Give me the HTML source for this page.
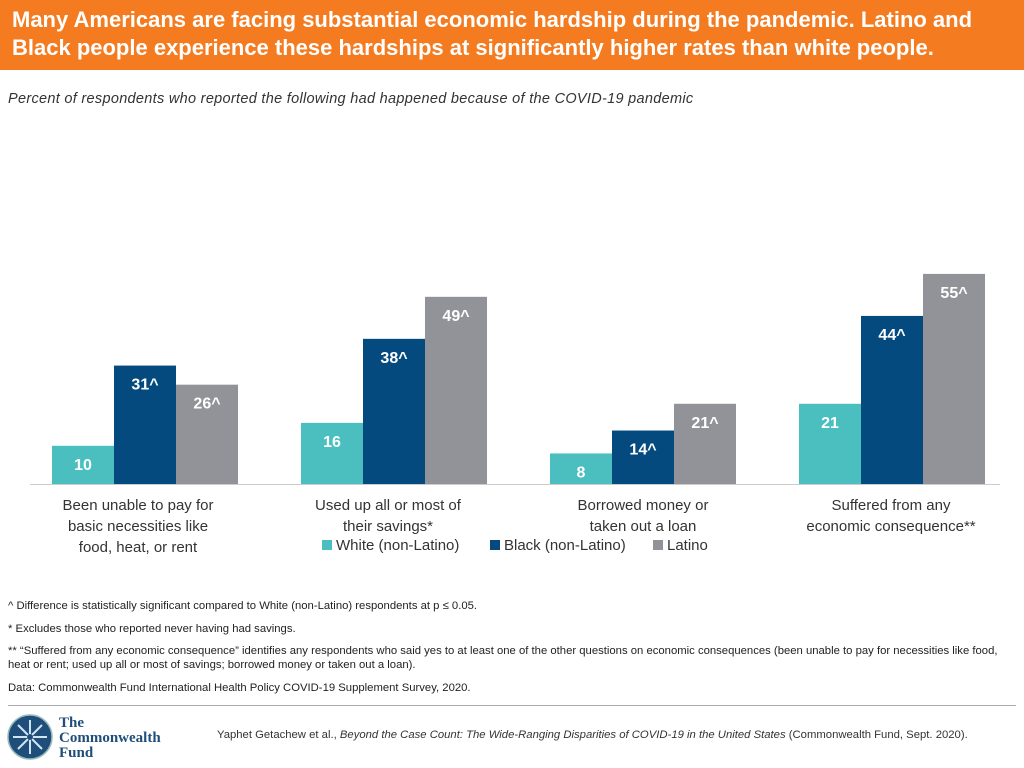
<!DOCTYPE html>
<html><head><meta charset="utf-8"><style>
body{margin:0;width:1024px;height:768px;background:#fff;font-family:"Liberation Sans",sans-serif;position:relative;overflow:hidden}
.hdr{position:absolute;left:0;top:0;width:1024px;height:70px;background:#f47b20;color:#fff;font-weight:bold;font-size:22px;line-height:28px;padding:6px 12px;box-sizing:border-box;white-space:nowrap}
.sub{position:absolute;left:8px;top:91px;font-size:14.5px;font-style:italic;color:#333;letter-spacing:0.3px}
.cat{position:absolute;top:495px;width:200px;text-align:center;font-size:15px;line-height:21px;color:#333;white-space:nowrap}
.note{position:absolute;left:8px;font-size:11.3px;color:#222;width:1010px;line-height:14px}
.leg{position:absolute;top:537px;font-size:15px;color:#333}
.sw{display:inline-block;width:10px;height:10px;margin-right:4px}
</style></head><body>
<div class="hdr">Many Americans are facing substantial economic hardship during the pandemic. Latino and<br>Black people experience these hardships at significantly higher rates than white people.</div>
<div class="sub">Percent of respondents who reported the following had happened because of the COVID-19 pandemic</div>
<svg id="chart" width="1024" height="768" style="position:absolute;left:0;top:0"></svg>
<div class="cat" style="left:38px">Been unable to pay for<br>basic necessities like<br>food, heat, or rent</div>
<div class="cat" style="left:288px">Used up all or most of<br>their savings*</div>
<div class="cat" style="left:543px">Borrowed money or<br>taken out a loan</div>
<div class="cat" style="left:791px">Suffered from any<br>economic consequence**</div>
<div class="leg" style="left:322px"><span class="sw" style="background:#4bbfbf"></span>White (non-Latino)</div>
<div class="leg" style="left:490px"><span class="sw" style="background:#044a7e"></span>Black (non-Latino)</div>
<div class="leg" style="left:653px"><span class="sw" style="background:#929299"></span>Latino</div>
<div class="note" style="top:599px">^ Difference is statistically significant compared to White (non-Latino) respondents at p ≤ 0.05.</div>
<div class="note" style="top:622px">* Excludes those who reported never having had savings.</div>
<div class="note" style="top:644px">** “Suffered from any economic consequence” identifies any respondents who said yes to at least one of the other questions on economic consequences (been unable to pay for necessities like food,<br>heat or rent; used up all or most of savings; borrowed money or taken out a loan).</div>
<div class="note" style="top:681px">Data: Commonwealth Fund International Health Policy COVID-19 Supplement Survey, 2020.</div>
<div style="position:absolute;left:8px;top:705px;width:1008px;height:1px;background:#aaa"></div>
<svg style="position:absolute;left:7px;top:714px" width="46" height="46"><circle cx="23" cy="23" r="22" fill="#1f4e7a" stroke="#9bb" stroke-width="1.5"/><g stroke="#cfe6f2" stroke-width="2"><line x1="23" y1="6" x2="23" y2="40"/><line x1="6" y1="23" x2="40" y2="23"/><line x1="11" y1="11" x2="35" y2="35"/><line x1="35" y1="11" x2="11" y2="35"/></g><circle cx="23" cy="23" r="3" fill="#1f4e7a"/></svg>
<div style="position:absolute;left:59px;top:716px;font-family:'Liberation Serif',serif;font-weight:bold;color:#1f4e7a;font-size:15px;line-height:15px">The<br>Commonwealth<br>Fund</div>
<div style="position:absolute;left:217px;top:729px;font-size:11.3px;color:#333">Yaphet Getachew et al., <i>Beyond the Case Count: The Wide-Ranging Disparities of COVID-19 in the United States</i> (Commonwealth Fund, Sept. 2020).</div>
<script>
const categories=["Unable to pay necessities","Used up savings","Borrowed money","Any economic consequence"];
const whiteVals=[10,16,8,21];
const blackVals=[31,38,14,44];
const latinoVals=[26,49,21,55];
const whiteLabels=["10","16","8","21"];
const blackLabels=["31^","38^","14^","44^"];
const latinoLabels=["26^","49^","21^","55^"];
const svg=document.getElementById('chart');
const NS='http://www.w3.org/2000/svg';
const base=484, scale=3.82, bw=62;
function y(v){return base-v*scale;}
function gx(i){return 52+i*249;}
const series=[[whiteVals,whiteLabels,'#4bbfbf','white'],[blackVals,blackLabels,'#044a7e','black'],[latinoVals,latinoLabels,'#929299','latino']];
categories.forEach((c,i)=>{
  series.forEach((s,j)=>{
    const v=s[0][i];
    const r=document.createElementNS(NS,'rect');
    r.setAttribute('x',gx(i)+j*bw);r.setAttribute('y',y(v));
    r.setAttribute('width',bw);r.setAttribute('height',v*scale);r.setAttribute('fill',s[2]);
    
    
    svg.appendChild(r);
    const t=document.createElementNS(NS,'text');
    t.setAttribute('x',gx(i)+j*bw+bw/2);t.setAttribute('y',y(v)+24);
    t.setAttribute('text-anchor','middle');t.setAttribute('fill','#fff');
    t.setAttribute('font-weight','bold');t.setAttribute('font-size','16');
    t.setAttribute('font-family','Liberation Sans, sans-serif');
    t.textContent=s[1][i];
    
    
    svg.appendChild(t);
  });
});
const ax=document.createElementNS(NS,'line');
ax.setAttribute('x1',30);ax.setAttribute('x2',1000);ax.setAttribute('y1',base+.5);ax.setAttribute('y2',base+.5);
ax.setAttribute('stroke','#ccc');


svg.appendChild(ax);
</script>
</body></html>
